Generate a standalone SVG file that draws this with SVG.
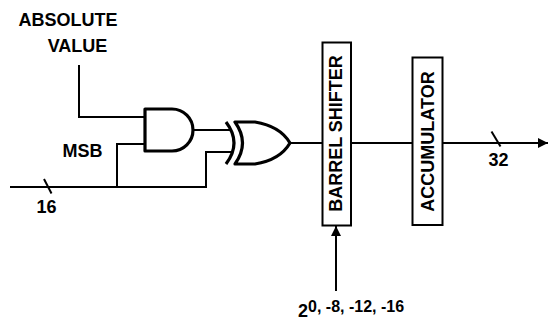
<svg xmlns="http://www.w3.org/2000/svg" width="548" height="322" viewBox="0 0 548 322">
<style>
.t{font-family:"Liberation Sans",Arial,Helvetica,sans-serif;font-weight:bold;font-size:18px;fill:#000}
.w{fill:none;stroke:#000;stroke-width:2}
.g{fill:#fff;stroke:#000;stroke-width:3.2;stroke-linejoin:round}
.box{fill:#fff;stroke:#000;stroke-width:2}
</style>
<defs>
<marker id="ah" markerWidth="10" markerHeight="10" refX="10" refY="5" orient="auto" markerUnits="userSpaceOnUse">
<path d="M0,0 L10,5 L0,10 Z" fill="#000"/>
</marker>
</defs>
<rect width="548" height="322" fill="#fff"/>
<g id="connectors">
<path class="w" d="M79,65 V117 H145"/>
<path class="w" d="M10,187 H206 V152 H233"/>
<path class="w" d="M117,187 V144 H145"/>
<path class="w" d="M192,130 H231"/>
<path class="w" d="M290,143 H323"/>
<path class="w" d="M351,143 H413"/>
<path class="w" d="M442,143 H548" marker-end="url(#ah)"/>
<path class="w" d="M336,291 V226" marker-end="url(#ah)"/>
<path class="w" d="M44,179 L51.5,193.5"/>
<path class="w" d="M491.5,131.5 L500.5,146.5"/>
</g>
<g id="and-gate">
<path class="g" d="M172,109 H145 V151 H172 A21,21 0 0 0 172,109 Z"/>
</g>
<g id="xor-gate">
<path class="g" style="fill:none" d="M226,122 Q242,143 226,164"/>
<path class="g" d="M235,122 H255 Q280,126 290,143 Q280,160 255,164 H235 Q250,143 235,122 Z"/>
</g>
<g id="barrel-shifter">
<rect class="box" x="322.5" y="42.5" width="28.5" height="183"/>
<text class="t" transform="translate(342,133.5) rotate(-90)" text-anchor="middle">BARREL SHIFTER</text>
</g>
<g id="accumulator">
<rect class="box" x="412.5" y="57.5" width="30" height="167.5"/>
<text class="t" transform="translate(434,141.5) rotate(-90)" text-anchor="middle">ACCUMULATOR</text>
</g>
<g id="labels">
<text class="t" x="68" y="26" text-anchor="middle">ABSOLUTE</text>
<text class="t" x="77.5" y="52" text-anchor="middle">VALUE</text>
<text class="t" x="82.5" y="157" text-anchor="middle">MSB</text>
<text class="t" x="46.5" y="213" text-anchor="middle">16</text>
<text class="t" x="498.5" y="166" text-anchor="middle">32</text>
<text class="t" x="298" y="317">2<tspan font-size="16" dy="-5">0, -8, -12, -16</tspan></text>
</g>
</svg>
